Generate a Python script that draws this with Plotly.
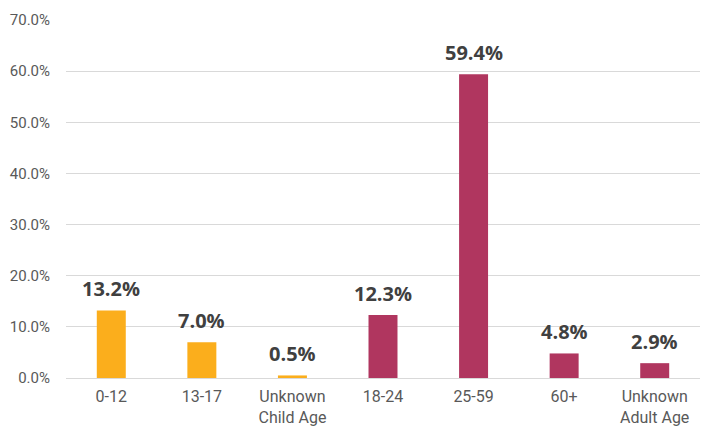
import plotly.graph_objects as go

categories = ["0-12", "13-17", "Unknown<br>Child Age", "18-24", "25-59", "60+", "Unknown<br>Adult Age"]
values = [13.2, 7.0, 0.5, 12.3, 59.4, 4.8, 2.9]
groups = ["child", "child", "child", "adult", "adult", "adult", "adult"]
tick_vals = [0, 10, 20, 30, 40, 50, 60, 70]
tick_text = ["0.0%", "10.0%", "20.0%", "30.0%", "40.0%", "50.0%", "60.0%", "70.0%"]

color_map = {"child": "#FBAE1C", "adult": "#B0365F"}
colors = [color_map[g] for g in groups]

fig = go.Figure()
fig.add_trace(go.Bar(
    x=categories, y=values, marker=dict(color=colors, line=dict(width=0)),
    width=0.32, hoverinfo="skip",
))
for c, v in zip(categories, values):
    fig.add_annotation(x=c, y=v, text=f"{v:.1f}%", showarrow=False, yanchor="bottom",
                       yshift=6, font=dict(family="Open Sans", size=20, color="#404040", weight="bold"))

fig.update_layout(
    width=709, height=427,
    margin=dict(l=58, r=17, t=12, b=57, autoexpand=False),
    plot_bgcolor="white", paper_bgcolor="white",
    showlegend=False,
    font=dict(family="Roboto", size=16, color="#595959"),
    xaxis=dict(showgrid=False, showline=True, linecolor="#D9D9D9", linewidth=1, automargin=False,
               ticks="", ticklabelstandoff=4, tickfont=dict(size=16, color="#595959")),
    yaxis=dict(range=[0, 70], tickvals=tick_vals, ticktext=tick_text, showgrid=True, automargin=False,
               gridcolor="#D9D9D9", gridwidth=1, zeroline=False, showline=False,
               ticks="", ticklabelstandoff=15, tickfont=dict(size=15, color="#595959")),
)
fig.write_html("out.html")
